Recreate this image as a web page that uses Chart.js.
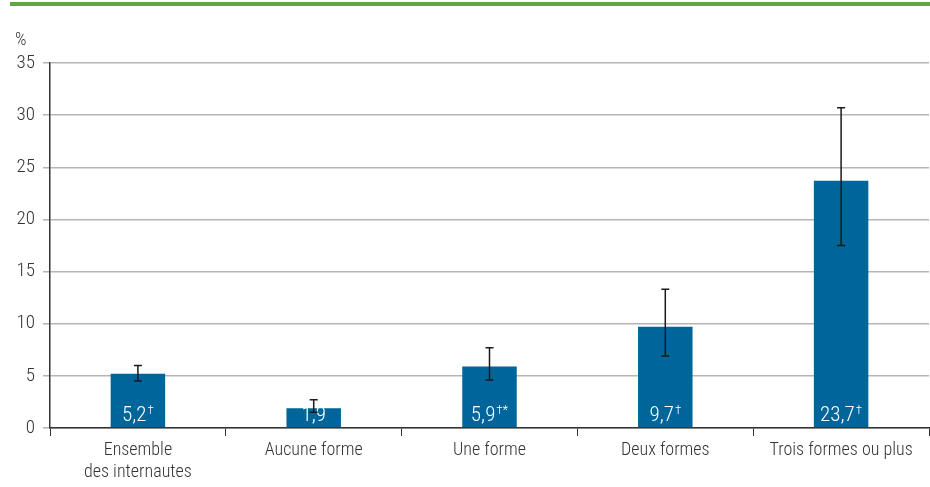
<!DOCTYPE html>
<html>
<head>
<meta charset="utf-8">
<script src="https://cdn.jsdelivr.net/npm/chart.js@4/dist/chart.umd.min.js"></script>
<style>
  html, body { margin: 0; padding: 0; background: #fff; }
  #wrap { position: relative; width: 930px; height: 487px; }
  #topline { position: absolute; left: 10px; top: 2px; width: 920px; height: 4px; background: #5fa83f; }
</style>
</head>
<body>
<div id="wrap">
  <div id="topline"></div>
  <canvas id="myChart" width="930" height="487"></canvas>
</div>
<script>
var fontFamily = "'Liberation Sans Narrow', 'Roboto Condensed', Roboto, sans-serif";

var categories = [["Ensemble", "des internautes"], "Aucune forme", "Une forme", "Deux formes", "Trois formes ou plus"];
var values = [5.2, 1.9, 5.9, 9.7, 23.7];
var errLow = [4.5, 1.5, 4.6, 6.9, 17.5];
var errHigh = [6.0, 2.7, 7.7, 13.3, 30.7];
var valueText = ["5,2", "1,9", "5,9", "9,7", "23,7"];
var valueSup = ["†", "", "†*", "†", "†"];
var yTicks = [0, 5, 10, 15, 20, 25, 30, 35];

var barColor = "#00659a";

var extras = {
    id: "extras",
    afterDatasetsDraw(chart) {
        var ctx = chart.ctx;
        var y = chart.scales.y;
        var meta = chart.getDatasetMeta(0);
        ctx.save();
        // value labels
        meta.data.forEach(function (bar, i) {
            ctx.font = "300 21px " + fontFamily;
            var w1 = ctx.measureText(valueText[i]).width;
            ctx.font = "300 13px " + fontFamily;
            var w2 = valueSup[i] ? ctx.measureText(valueSup[i]).width + 1 : 0;
            var x0 = bar.x - (w1 + w2) / 2;
            var base = y.getPixelForValue(0) - 7;
            ctx.fillStyle = "#ffffff";
            ctx.textAlign = "left";
            ctx.textBaseline = "alphabetic";
            ctx.font = "300 21px " + fontFamily;
            ctx.fillText(valueText[i], x0, base);
            if (valueSup[i]) {
                ctx.font = "300 13px " + fontFamily;
                ctx.fillText(valueSup[i], x0 + w1 + 1, base - 7);
            }
        });
        // error bars
        ctx.strokeStyle = "#1a1a1a";
        ctx.lineWidth = 1.5;
        meta.data.forEach(function (bar, i) {
            var yl = y.getPixelForValue(errLow[i]);
            var yh = y.getPixelForValue(errHigh[i]);
            ctx.beginPath();
            ctx.moveTo(bar.x, yl);
            ctx.lineTo(bar.x, yh);
            ctx.moveTo(bar.x - 4, yl);
            ctx.lineTo(bar.x + 4, yl);
            ctx.moveTo(bar.x - 4, yh);
            ctx.lineTo(bar.x + 4, yh);
            ctx.stroke();
        });
        // unit label
        ctx.fillStyle = "#333333";
        ctx.font = "300 18px " + fontFamily;
        ctx.textAlign = "left";
        ctx.textBaseline = "middle";
        ctx.fillText("%", 15, 40);
        ctx.restore();
    }
};

new Chart("myChart", {
    type: "bar",
    data: {
        labels: categories,
        datasets: [
            {
                data: values,
                backgroundColor: barColor,
                barPercentage: 0.31,
                categoryPercentage: 1,
            },
        ],
    },
    options: {
        responsive: false,
        animation: false,
        events: [],
        layout: { padding: { top: 63, right: 1, left: 0, bottom: 0 } },
        scales: {
            x: {
                afterFit(scale) { scale.height = 59; },
                grid: {
                    offset: true,
                    drawOnChartArea: false,
                    color: "#333333",
                    tickLength: 8,
                },
                border: { color: "#333333", width: 1.5 },
                ticks: {
                    color: "#333333",
                    font: { family: fontFamily, size: 18, weight: 300 },
                    padding: 4,
                    maxRotation: 0,
                },
            },
            y: {
                min: 0,
                max: 35,
                afterFit(scale) { scale.width = 50; },
                afterBuildTicks(scale) {
                    scale.ticks = yTicks.map(v => ({ value: v }));
                },
                grid: {
                    color: "#b5b5b5",
                    lineWidth: 1.5,
                    tickLength: 7,
                },
                border: { color: "#333333", width: 1.5 },
                ticks: {
                    color: "#333333",
                    font: { family: fontFamily, size: 19, weight: 300 },
                    padding: 8,
                },
            },
        },
        plugins: {
            legend: { display: false },
            tooltip: { enabled: false },
        },
    },
    plugins: [extras],
});
</script>
</body>
</html>
